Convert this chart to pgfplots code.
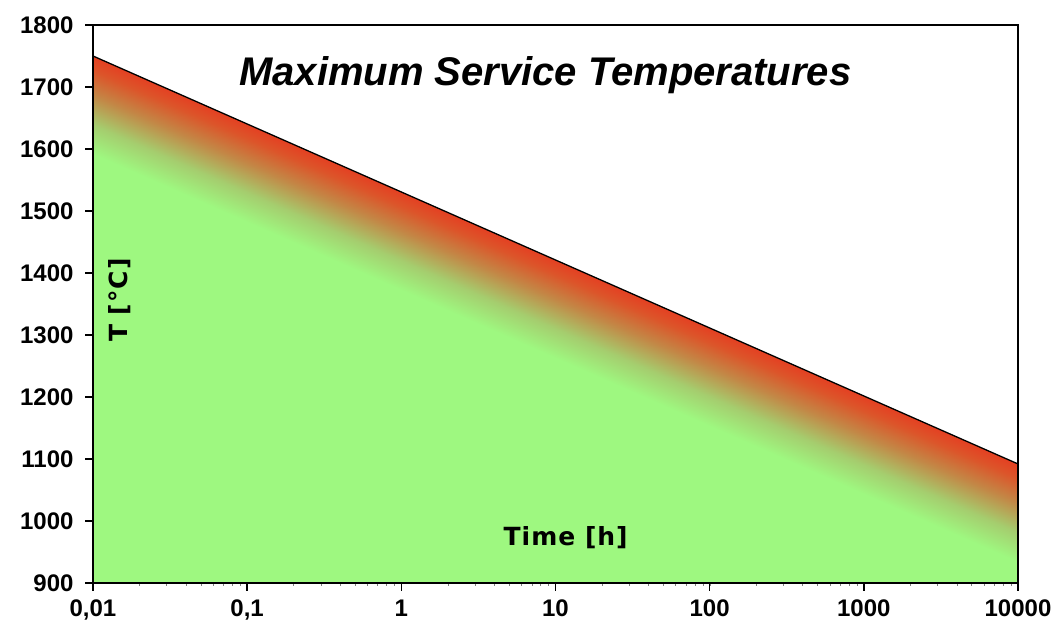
\documentclass[border=0pt]{standalone}
\usepackage{fontspec}
\setmainfont{Liberation Sans}
\newfontfamily\widefont[LetterSpace=4]{DejaVu Sans}
\usepackage{pgfplots}
\pgfplotsset{compat=1.18}
\definecolor{lgreen}{RGB}{158,248,128}
\begin{document}
\begin{tikzpicture}
\begin{axis}[
  name=ax,
  scale only axis, width=925pt, height=558pt,
  xmode=log, xmin=0.01, xmax=10000, ymin=900, ymax=1800,
  xtick={0.01,0.1,1,10,100,1000,10000},
  xticklabels={{0,01},{0,1},{1},{10},{100},{1000},{10000}},
  minor xtick={}, minor tick num=0,
  ytick={900,1000,...,1800},
  /pgf/number format/assume math mode=true,
  /pgf/number format/1000 sep={},
  ticklabel style={font=\bfseries\fontsize{24}{28}\selectfont},
  yticklabel style={xshift=-8pt},
  xticklabel style={yshift=-5pt},
  tick align=outside, major tick length=8pt,
  xtick pos=bottom, ytick pos=left,
  axis line style={line width=1.6pt},
  major tick style={line width=1.6pt, black},
  axis on top,
  colormap={band}{rgb255(0)=(158,248,128) rgb255(0.3)=(165,205,110) rgb255(0.6)=(195,135,70) rgb255(0.85)=(220,85,42) rgb255(1)=(228,64,34)},
]
\addplot[fill=lgreen, draw=none] coordinates {(0.01,900) (0.01,1750) (10000,1092) (10000,900)} -- cycle;
\addplot[patch, patch type=rectangle, shader=interp, point meta=explicit] coordinates {
 (0.01,1592) [0] (10000,934) [0] (10000,1092) [1] (0.01,1750) [1]};
\addplot[black, line width=1.3pt] coordinates {(0.01,1750) (10000,1092)};
\node[font=\bfseries\itshape\fontsize{40}{46}\selectfont] at (rel axis cs:0.489,0.910) {Maximum Service Temperatures};
\node[font=\widefont\bfseries\fontsize{25}{30}\selectfont, rotate=90] at (rel axis cs:0.029,0.507) {T [°C]};
\node[font=\widefont\bfseries\fontsize{25}{30}\selectfont] at (rel axis cs:0.511,0.081) {Time [h]};
\end{axis}
\path ([shift={(-93pt,-52pt)}]ax.south west) rectangle ([shift={(41pt,25pt)}]ax.north east);
\end{tikzpicture}
\end{document}
